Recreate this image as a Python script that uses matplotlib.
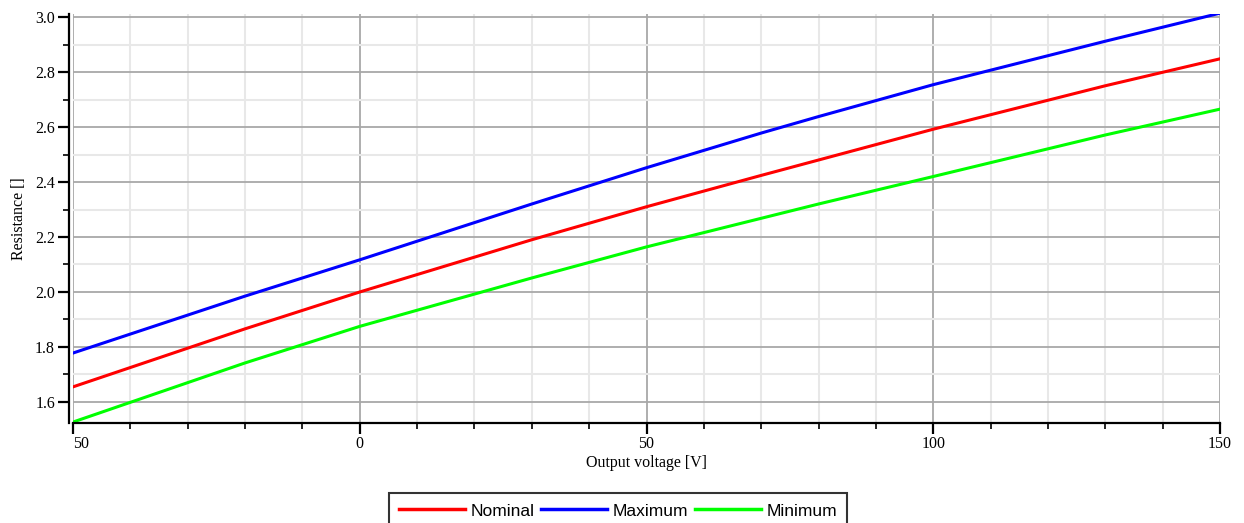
import numpy as np
import matplotlib
matplotlib.use("Agg")
import matplotlib.pyplot as plt
from matplotlib.ticker import MultipleLocator

# values
voltage = [-50, -20, 0, 30, 50, 70, 80, 100, 130, 150]
nominal = [1.655, 1.866, 2.000, 2.190, 2.310, 2.424, 2.480, 2.592, 2.750, 2.848]
maximum = [1.778, 1.985, 2.117, 2.320, 2.452, 2.578, 2.638, 2.754, 2.912, 3.014]
minimum = [1.527, 1.742, 1.875, 2.051, 2.164, 2.268, 2.320, 2.420, 2.571, 2.665]

x_ticks = [-50, 0, 50, 100, 150]
x_labels = ["50", "0", "50", "100", "150"]
y_ticks = [1.6, 1.8, 2.0, 2.2, 2.4, 2.6, 2.8, 3.0]

fig = plt.figure(figsize=(12.44, 5.23), dpi=100)
ax = fig.add_axes([73/1244, 1 - 422.6/523, 1147/1244, (422.6 - 14)/523])

ax.plot(voltage, nominal, color="#ff0000", lw=2.2, label="Nominal")
ax.plot(voltage, maximum, color="#0000ff", lw=2.2, label="Maximum")
ax.plot(voltage, minimum, color="#00ff00", lw=2.2, label="Minimum")

ax.set_xlim(-50, 150)
ax.set_ylim(1.525, 3.011)

ax.set_xticks(x_ticks)
ax.set_xticklabels(x_labels)
ax.get_xticklabels()[0].set_ha("left")
ax.set_yticks(y_ticks)
ax.set_yticklabels(["%.1f" % v for v in y_ticks])
ax.xaxis.set_minor_locator(MultipleLocator(10))
ax.yaxis.set_minor_locator(MultipleLocator(0.1))

ax.grid(which="minor", color="#e8e8e8", lw=1.5, zorder=0)
ax.grid(which="major", color="#a8a8a8", lw=1.3, zorder=0)
ax.set_axisbelow(True)

for s in ["top", "right"]:
    ax.spines[s].set_visible(False)
ax.spines["left"].set_position(("outward", 3))
for s in ["left", "bottom"]:
    ax.spines[s].set_linewidth(1.6)
    ax.spines[s].set_color("black")

ax.tick_params(which="major", direction="out", length=8, width=1.6,
               labelsize=11.5, labelfontfamily="Liberation Serif", pad=2)
ax.tick_params(which="minor", direction="out", length=4, width=1.2)

ax.set_xlabel("Output voltage [V]", family="Liberation Serif", fontsize=11.5, labelpad=2)
ax.set_ylabel("Resistance []", family="Liberation Serif", fontsize=11.5, labelpad=6)

leg = fig.legend(loc="upper center", bbox_to_anchor=(618/1244, 1 - 493/523),
                 ncol=3, frameon=True, fancybox=False, handlelength=3.8,
                 handletextpad=0.3, columnspacing=0.4, borderpad=0.6,
                 borderaxespad=0, prop={"family": "Liberation Sans", "size": 12.5})
leg.get_frame().set_edgecolor("black")
leg.get_frame().set_linewidth(1.5)
for line in leg.get_lines():
    line.set_linewidth(2.5)

fig.savefig("out.png", dpi=100)
